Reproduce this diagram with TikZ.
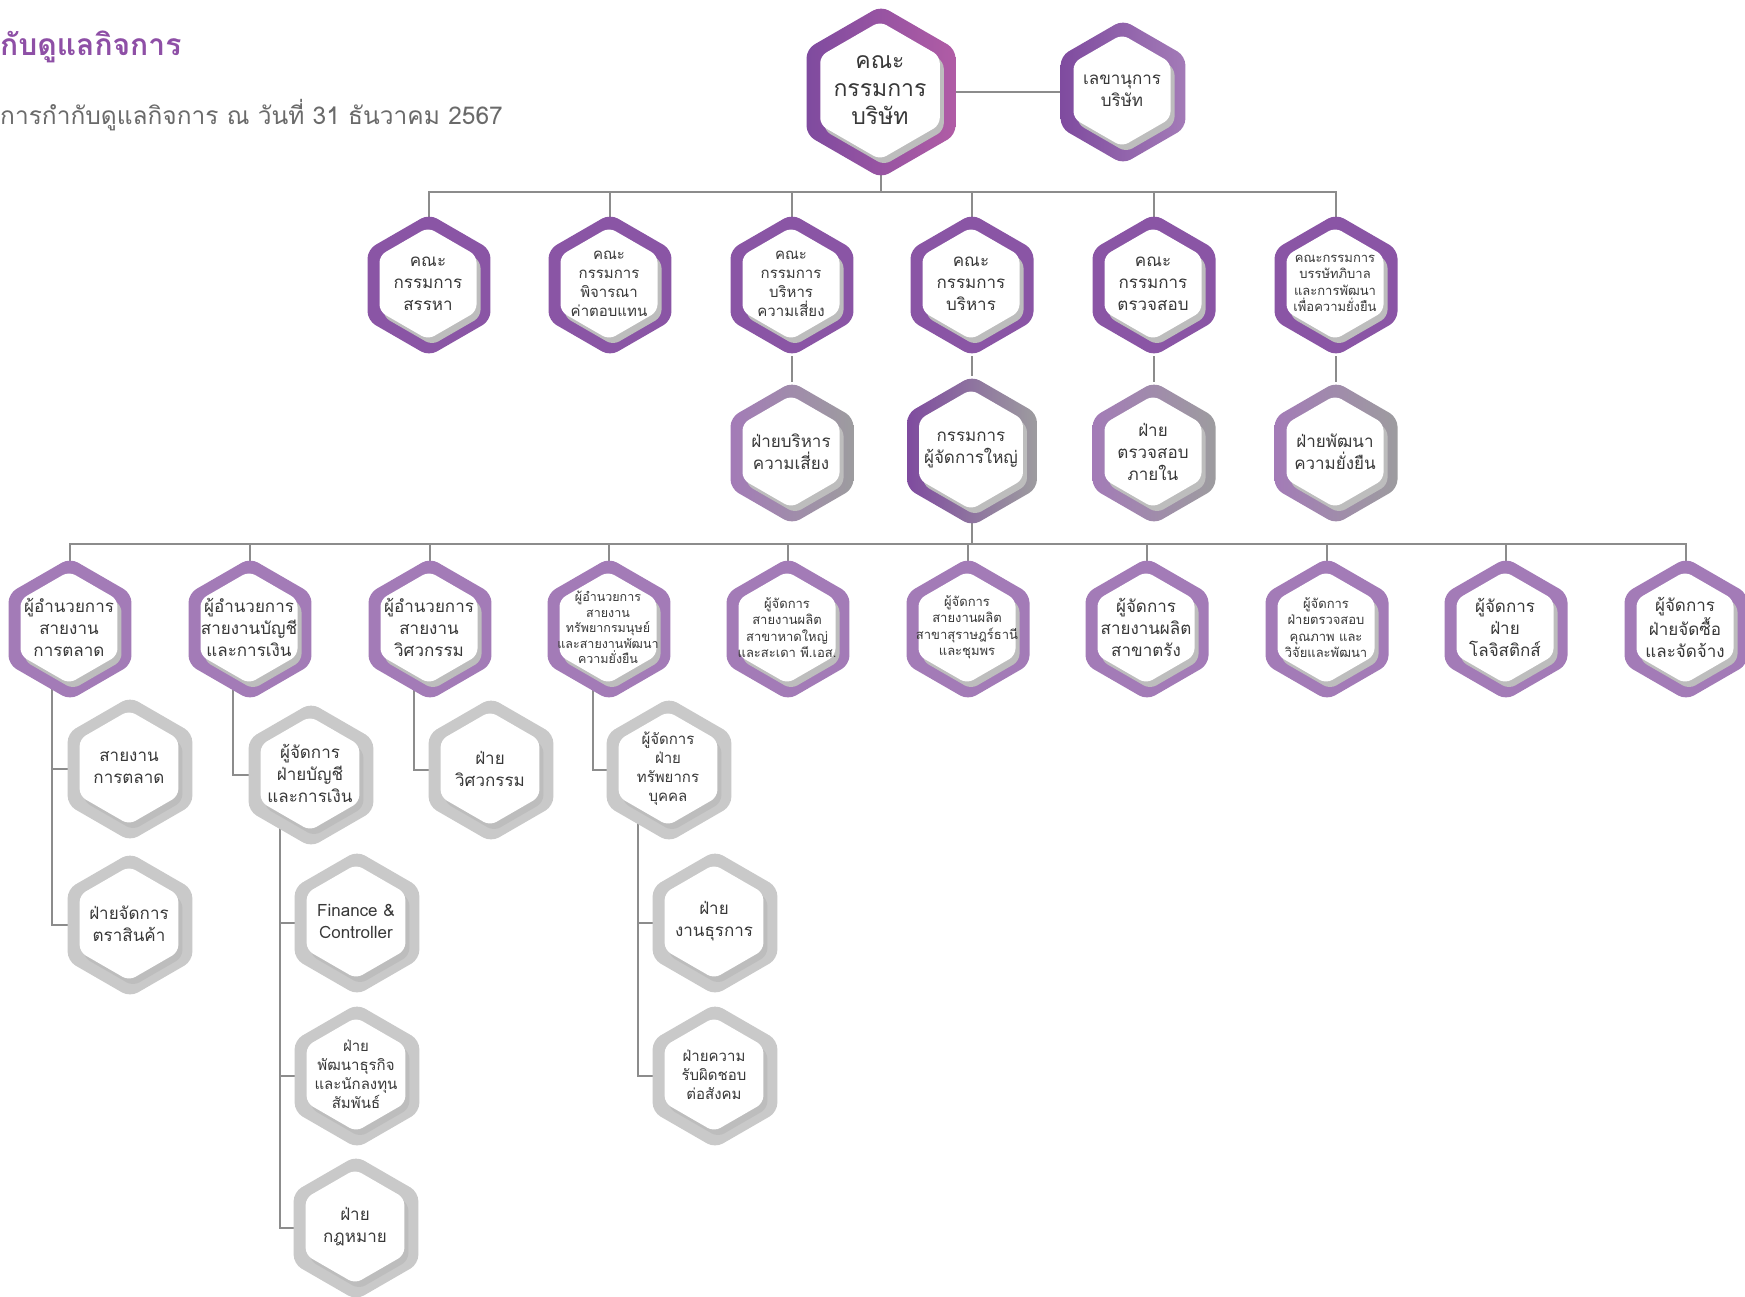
\documentclass[tikz,border=0pt]{standalone}
\usepackage{fontspec}
\newfontfamily\thaifont[Script=Thai]{Loma}
\usepackage{xcolor}
\usepackage{tikz}
\usetikzlibrary{shapes.geometric}
\pgfdeclarelayer{bg}
\pgfsetlayers{bg,main}
\definecolor{ink}{HTML}{383838}
\definecolor{wire}{HTML}{8C8C8C}
\definecolor{plum}{HTML}{7F4B9F}
\definecolor{orchid}{HTML}{B05CA5}
\definecolor{mauve}{HTML}{8A55A5}
\definecolor{lilac}{HTML}{A37BB7}
\definecolor{ash}{HTML}{9D9C9F}
\definecolor{fog}{HTML}{C9C9C9}
\definecolor{headline}{HTML}{8E4FA6}
\definecolor{subline}{HTML}{6A6A6A}
% ring, shadow, face and text of one hexagon
\newcommand{\hexcell}[6][112pt]{%
  \node[#2] (#3) at (#4) {};
  \node[face, fill=black!26, minimum size=#1] at ([shift={(3,4)}]#3.center) {};
  \node[face, minimum size=#1] at ([shift={(-1,-1.5)}]#3.center) {};
  \node[#5] at ([shift={(-1,-1.5)}]#3.center) {#6};}

\begin{document}
\begin{tikzpicture}[x=1pt, y=-1pt,
  hexbase/.style={regular polygon, regular polygon sides=6, shape border rotate=30, inner sep=0pt, outer sep=0pt, rounded corners=9pt},
  face/.style={hexbase, fill=white, rounded corners=7pt},
  ringtop/.style={hexbase, minimum size=172pt, left color=plum, right color=orchid},
  ringsec/.style={hexbase, minimum size=144pt, left color=plum, right color=lilac},
  ringcom/.style={hexbase, minimum size=142pt, fill=mauve},
  ringdiv/.style={hexbase, minimum size=142pt, left color=lilac, right color=ash},
  ringceo/.style={hexbase, minimum size=150pt, left color=plum, right color=ash},
  ringmgr/.style={hexbase, minimum size=142pt, fill=lilac},
  ringsub/.style={hexbase, minimum size=144pt, fill=fog},
  lblL/.style={font=\thaifont\fontsize{23}{28}\selectfont, text=ink, align=center, inner sep=0pt},
  lbl/.style={font=\thaifont\fontsize{17}{22}\selectfont, text=ink, align=center, inner sep=0pt},
  lblM/.style={font=\thaifont\fontsize{15}{19}\selectfont, text=ink, align=center, inner sep=0pt},
  lblS/.style={font=\thaifont\fontsize{13}{16.5}\selectfont, text=ink, align=center, inner sep=0pt},
  lblXS/.style={font=\thaifont\fontsize{12.5}{15.5}\selectfont, text=ink, align=center, inner sep=0pt},
  wire/.style={draw=wire, line width=1.4pt}]
  \useasboundingbox (0,0) rectangle (1745,1296);

  \node[anchor=west, inner sep=0pt, text=headline, font=\thaifont\bfseries\fontsize{30}{36}\selectfont] (ttl) at (0,47) {กับดูแลกิจการ};
  \node[anchor=west, inner sep=0pt, text=subline, font=\thaifont\fontsize{24.5}{28}\selectfont] (sub) at (0,115) {การกำกับดูแลกิจการ ณ วันที่ 31 ธันวาคม 2567};

  % board level
  \hexcell[138pt]{ringtop}{board}{881,92}{lblL}{คณะ\\กรรมการ\\บริษัท}
  \hexcell{ringsec}{sec}{1123,92}{lbl}{เลขานุการ\\บริษัท}

  % committees
  \hexcell{ringcom}{cnom}{429,285}{lbl}{คณะ\\กรรมการ\\สรรหา}
  \hexcell{ringcom}{crem}{610,285}{lblM}{คณะ\\กรรมการ\\พิจารณา\\ค่าตอบแทน}
  \hexcell{ringcom}{crisk}{792,285}{lblM}{คณะ\\กรรมการ\\บริหาร\\ความเสี่ยง}
  \hexcell{ringcom}{cexe}{972,285}{lbl}{คณะ\\กรรมการ\\บริหาร}
  \hexcell{ringcom}{caud}{1154,285}{lbl}{คณะ\\กรรมการ\\ตรวจสอบ}
  \hexcell{ringcom}{cesg}{1336,285}{lblS}{คณะกรรมการ\\บรรษัทภิบาล\\และการพัฒนา\\เพื่อความยั่งยืน}

  % departments under committees
  \hexcell{ringdiv}{drisk}{792,453}{lbl}{ฝ่ายบริหาร\\ความเสี่ยง}
  \hexcell[120pt]{ringceo}{ceo}{972,451}{lbl}{กรรมการ\\ผู้จัดการใหญ่}
  \hexcell{ringdiv}{daud}{1154,453}{lbl}{ฝ่าย\\ตรวจสอบ\\ภายใน}
  \hexcell{ringdiv}{desg}{1336,453}{lbl}{ฝ่ายพัฒนา\\ความยั่งยืน}

  % line managers
  \hexcell{ringmgr}{vmk}{70,629}{lbl}{ผู้อำนวยการ\\สายงาน\\การตลาด}
  \hexcell{ringmgr}{vacc}{250,629}{lbl}{ผู้อำนวยการ\\สายงานบัญชี\\และการเงิน}
  \hexcell{ringmgr}{veng}{430,629}{lbl}{ผู้อำนวยการ\\สายงาน\\วิศวกรรม}
  \hexcell{ringmgr}{vhr}{609,629}{lblXS}{ผู้อำนวยการ\\สายงาน\\ทรัพยากรมนุษย์\\และสายงานพัฒนา\\ความยั่งยืน}
  \hexcell{ringmgr}{vhy}{788,629}{lblS}{ผู้จัดการ\\สายงานผลิต\\สาขาหาดใหญ่\\และสะเดา พี.เอส.}
  \hexcell{ringmgr}{vsr}{968,629}{lblS}{ผู้จัดการ\\สายงานผลิต\\สาขาสุราษฎร์ธานี\\และชุมพร}
  \hexcell{ringmgr}{vtr}{1147,629}{lbl}{ผู้จัดการ\\สายงานผลิต\\สาขาตรัง}
  \hexcell{ringmgr}{vqa}{1327,629}{lblS}{ผู้จัดการ\\ฝ่ายตรวจสอบ\\คุณภาพ และ\\วิจัยและพัฒนา}
  \hexcell{ringmgr}{vlog}{1506,629}{lbl}{ผู้จัดการ\\ฝ่าย\\โลจิสติกส์}
  \hexcell{ringmgr}{vpur}{1686,629}{lbl}{ผู้จัดการ\\ฝ่ายจัดซื้อ\\และจัดจ้าง}

  % units
  \hexcell[114pt]{ringsub}{gmk}{130,769}{lbl}{สายงาน\\การตลาด}
  \hexcell[114pt]{ringsub}{gbrand}{130,925}{lbl}{ฝ่ายจัดการ\\ตราสินค้า}
  \hexcell[114pt]{ringsub}{gacc}{311,775}{lbl}{ผู้จัดการ\\ฝ่ายบัญชี\\และการเงิน}
  \hexcell[114pt]{ringsub}{gfin}{357,923}{lbl}{Finance \&\\Controller}
  \hexcell[114pt]{ringsub}{gbiz}{357,1076}{lblM}{ฝ่าย\\พัฒนาธุรกิจ\\และนักลงทุน\\สัมพันธ์}
  \hexcell[114pt]{ringsub}{glaw}{356,1228}{lbl}{ฝ่าย\\กฎหมาย}
  \hexcell[114pt]{ringsub}{geng}{491,770}{lbl}{ฝ่าย\\วิศวกรรม}
  \hexcell[114pt]{ringsub}{ghr}{669,770}{lblM}{ผู้จัดการ\\ฝ่าย\\ทรัพยากร\\บุคคล}
  \hexcell[114pt]{ringsub}{gadm}{715,923}{lbl}{ฝ่าย\\งานธุรการ}
  \hexcell[114pt]{ringsub}{gcsr}{715,1076}{lblM}{ฝ่ายความ\\รับผิดชอบ\\ต่อสังคม}

  \coordinate (bus1) at (0,192);
  \coordinate (bus2) at (0,544);
  \begin{pgfonlayer}{bg}
    \fill[white] (0,0) rectangle (1745,1296);
    \draw[wire] (board) -- (sec);
    \foreach \c in {cnom,crem,crisk,cexe,caud,cesg}
      \draw[wire] (board.center) -- (board.center |- bus1) -| (\c.center);
    \draw[wire] (crisk) -- (drisk);
    \draw[wire] (cexe) -- (ceo);
    \draw[wire] (caud) -- (daud);
    \draw[wire] (cesg) -- (desg);
    \foreach \m in {vmk,vacc,veng,vhr,vhy,vsr,vtr,vqa,vlog,vpur}
      \draw[wire] (ceo.center) -- (ceo.center |- bus2) -| (\m.center);
    \draw[wire] ([xshift=-18pt]vmk.center) |- (gmk.west);
    \draw[wire] ([xshift=-18pt]vmk.center) |- (gbrand.west);
    \draw[wire] ([xshift=-17pt]vacc.center) |- (gacc.west);
    \draw[wire] ([xshift=-16pt]veng.center) |- (geng.west);
    \draw[wire] ([xshift=-16pt]vhr.center) |- (ghr.west);
    \foreach \u in {gfin,gbiz,glaw}
      \draw[wire] ([xshift=-31pt]gacc.center) |- (\u.west);
    \foreach \u in {gadm,gcsr}
      \draw[wire] ([xshift=-31pt]ghr.center) |- (\u.west);
  \end{pgfonlayer}
\end{tikzpicture}
\end{document}
